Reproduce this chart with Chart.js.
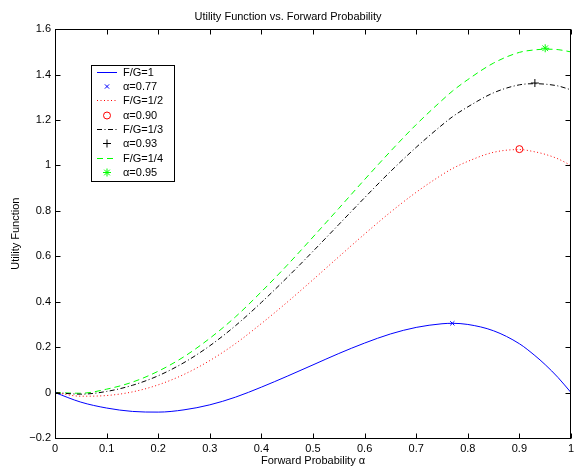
<!DOCTYPE html>
<html><head><meta charset="utf-8">
<script src="https://cdn.jsdelivr.net/npm/chart.js@4.4.1/dist/chart.umd.min.js"></script>
<style>html,body{margin:0;padding:0;background:#fff}#wrap{width:576px;height:468px}</style>
</head><body><div id="wrap"><canvas id="c" width="576" height="468"></canvas></div>
<script>
// ---- data ----
const alpha = [0,0.05,0.1,0.15,0.2,0.25,0.3,0.35,0.4,0.45,0.5,0.55,0.6,0.65,0.7,0.75,0.77,0.8,0.85,0.9,0.93,0.95,0.975,1];
const utilFG1   = [0,-0.042,-0.068,-0.083,-0.086,-0.076,-0.054,-0.020,0.024,0.072,0.122,0.172,0.218,0.258,0.287,0.303,0.305,0.300,0.272,0.215,0.163,0.123,0.066,0];
const utilFG1_2 = [0,-0.016,-0.013,0.003,0.034,0.080,0.141,0.216,0.304,0.398,0.497,0.598,0.698,0.794,0.882,0.959,0.986,1.018,1.058,1.070,1.060,1.049,1.029,1.0];
const utilFG1_3 = [0,-0.007,0.005,0.032,0.074,0.132,0.206,0.295,0.397,0.507,0.622,0.740,0.858,0.973,1.080,1.178,1.214,1.258,1.320,1.355,1.360,1.358,1.350,1.333];
const utilFG1_4 = [0,-0.003,0.015,0.046,0.094,0.158,0.239,0.334,0.444,0.561,0.685,0.811,0.938,1.062,1.180,1.287,1.327,1.378,1.451,1.498,1.509,1.512,1.510,1.5];
const optAlpha   = [0.77,0.90,0.93,0.95];
const optUtility = [0.305,1.072,1.363,1.516];
const seriesLabels = ['F/G=1','F/G=1/2','F/G=1/3','F/G=1/4'];
const optLabels    = ['α=0.77','α=0.90','α=0.93','α=0.95'];
const xTicks = [0,0.1,0.2,0.3,0.4,0.5,0.6,0.7,0.8,0.9,1];
const xTickLabels = ['0','0.1','0.2','0.3','0.4','0.5','0.6','0.7','0.8','0.9','1'];
const yTicks = [-0.2,0,0.2,0.4,0.6,0.8,1,1.2,1.4,1.6];
const yTickLabels = ['\u22120.2','0','0.2','0.4','0.6','0.8','1','1.2','1.4','1.6'];
const titleText = 'Utility Function vs. Forward Probability';
const xTitle = 'Forward Probability \u03b1';
const yTitle = 'Utility Function';

// ---- styles ----
const FONT = 'Liberation Sans, Arial, Helvetica, sans-serif';
const lineStyles = [
  {color:'#0000ff', dash:[]},
  {color:'#ff0000', dash:[1,2.5]},
  {color:'#000000', dash:[5,2.5,1,2.5]},
  {color:'#00ff00', dash:[6,4]}
];
const markerStyles = [
  {color:'#0000ff', style:'crossRot', r:3},
  {color:'#ff0000', style:'circle', r:3.5},
  {color:'#000000', style:'cross', r:4},
  {color:'#00ff00', style:'star', r:4}
];
const allSeries = [utilFG1, utilFG1_2, utilFG1_3, utilFG1_4];

const datasets = [];
allSeries.forEach((s, i) => {
  datasets.push({
    label: seriesLabels[i],
    data: alpha.map((a, j) => ({x:a, y:s[j]})),
    borderColor: lineStyles[i].color,
    borderDash: lineStyles[i].dash,
    borderWidth: 1,
    pointRadius: 0,
    fill: false,
    cubicInterpolationMode: 'monotone',
    _kind: 'line', _idx: i
  });
  datasets.push({
    label: optLabels[i],
    data: [{x: optAlpha[i], y: optUtility[i]}],
    showLine: false,
    borderColor: markerStyles[i].color,
    backgroundColor: 'rgba(0,0,0,0)',
    borderWidth: 1,
    pointStyle: markerStyles[i].style,
    pointRadius: markerStyles[i].r,
    pointHoverRadius: markerStyles[i].r,
    _kind: 'marker', _idx: i
  });
});

const framePlugin = {
  id: 'frame',
  afterDraw(chart) {
    const ctx = chart.ctx;
    const a = chart.chartArea;
    const xs = chart.scales.x, ys = chart.scales.y;
    const L = Math.round(a.left) + 0.5, R = Math.round(a.right) - 0.5;
    const T = Math.round(a.top) + 0.5, B = Math.round(a.bottom) + 0.5;
    ctx.save();
    ctx.strokeStyle = '#000';
    ctx.lineWidth = 1;
    ctx.setLineDash([]);
    ctx.strokeRect(L, T, R - L, B - T);
    const tl = 5;
    ctx.beginPath();
    xTicks.forEach(v => {
      const px = Math.round(xs.getPixelForValue(v)) + 0.5;
      ctx.moveTo(px, B); ctx.lineTo(px, B - tl);
      ctx.moveTo(px, T); ctx.lineTo(px, T + tl);
    });
    yTicks.forEach(v => {
      const py = Math.round(ys.getPixelForValue(v)) + 0.5;
      ctx.moveTo(L, py); ctx.lineTo(L + tl, py);
      ctx.moveTo(R, py); ctx.lineTo(R - tl, py);
    });
    ctx.stroke();

    // legend
    const bx = 91.5, by = 65.5, bw = 83, bh = 116;
    ctx.fillStyle = '#fff';
    ctx.fillRect(bx, by, bw, bh);
    ctx.strokeRect(bx, by, bw, bh);
    const y0 = 71.5, step = 14.35, lx0 = 97, lx1 = 117, tx = 123;
    ctx.font = '11px ' + FONT;
    ctx.textBaseline = 'middle';
    ctx.textAlign = 'left';
    chart.data.datasets.forEach((ds, k) => {
      const y = Math.round(y0 + k * step) + 0.5;
      if (ds._kind === 'line') {
        const st = lineStyles[ds._idx];
        ctx.strokeStyle = st.color;
        ctx.setLineDash(st.dash);
        ctx.beginPath(); ctx.moveTo(lx0, y); ctx.lineTo(lx1, y); ctx.stroke();
        ctx.setLineDash([]);
      } else {
        const st = markerStyles[ds._idx];
        ctx.strokeStyle = st.color;
        ctx.fillStyle = 'rgba(0,0,0,0)';
        Chart.helpers.drawPoint(ctx, {pointStyle: st.style, radius: st.r, rotation: 0, borderWidth: 1}, (lx0 + lx1) / 2, y);
      }
      ctx.fillStyle = '#000';
      ctx.fillText(ds.label, tx, y);
    });
    ctx.restore();
  }
};

Chart.defaults.color = '#000';
Chart.defaults.font.family = FONT;
Chart.defaults.font.size = 11;

new Chart(document.getElementById('c'), {
  type: 'line',
  data: { datasets },
  options: {
    responsive: false,
    animation: false,
    layout: { padding: {left: 0, right: 0, top: 0, bottom: 0} },
    plugins: {
      legend: { display: false },
      tooltip: { enabled: false },
      title: { display: true, text: titleText, font: {size: 11, weight: 'normal'}, padding: {top: 10, bottom: 6} }
    },
    scales: {
      x: {
        type: 'linear', min: 0, max: 1,
        grid: { display: false, drawTicks: false },
        border: { display: false },
        afterBuildTicks: s => { s.ticks = xTicks.map(v => ({value: v})); },
        afterFit: s => { s.height = 30; s.paddingLeft = 0; s.paddingRight = 0; },
        ticks: { padding: 4, maxRotation: 0, autoSkip: false, callback: (v, i) => xTickLabels[i] },
        title: { display: true, text: xTitle, font: {size: 11}, padding: {top: 0, bottom: 0} }
      },
      y: {
        type: 'linear', min: -0.2, max: 1.6,
        grid: { display: false, drawTicks: false },
        border: { display: false },
        afterBuildTicks: s => { s.ticks = yTicks.map(v => ({value: v})); },
        afterFit: s => { s.width = 55; s.paddingTop = 0; s.paddingBottom = 0; },
        ticks: { padding: 4, autoSkip: false, callback: (v, i) => yTickLabels[i] },
        title: { display: true, text: yTitle, font: {size: 11}, padding: {top: 9, bottom: 0} }
      }
    }
  },
  plugins: [framePlugin]
});
</script>
</body></html>
